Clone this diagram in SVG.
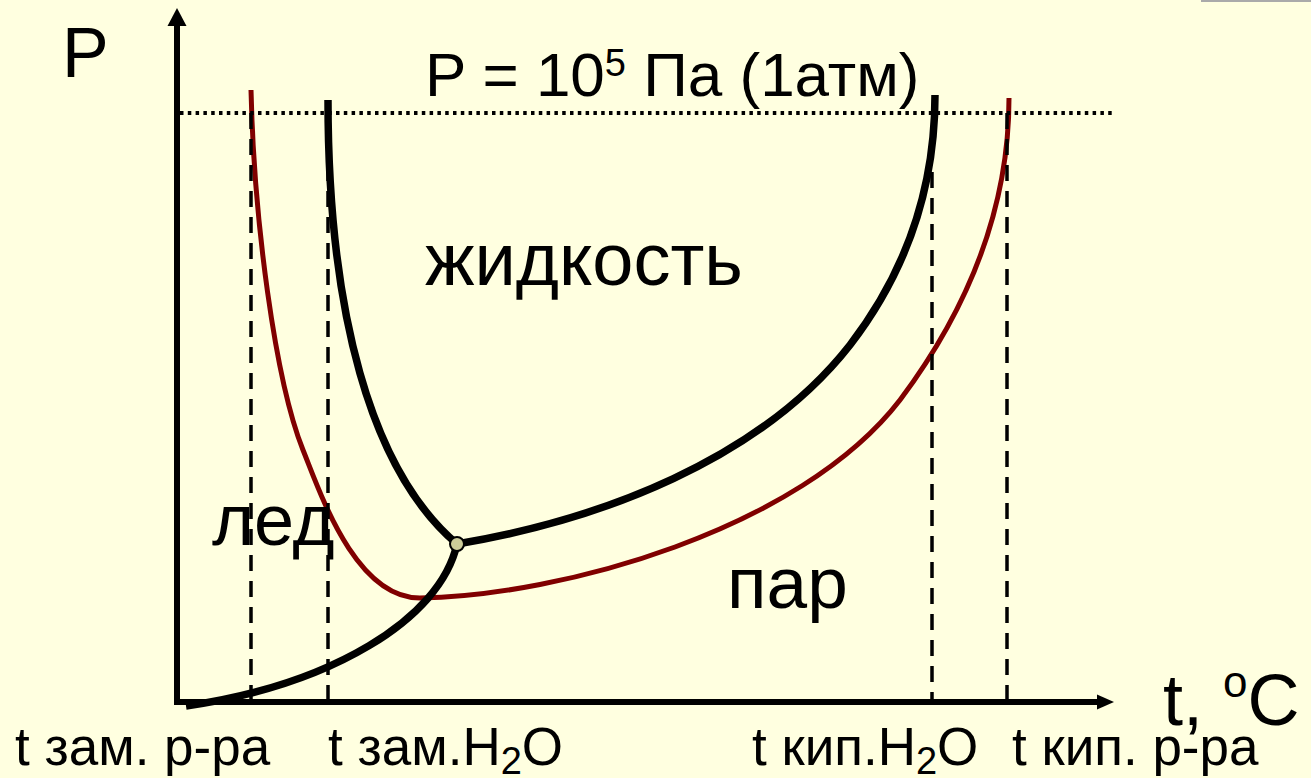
<svg xmlns="http://www.w3.org/2000/svg" width="1311" height="778" viewBox="0 0 1311 778">
<style>
.t{font-family:"Liberation Sans",Arial,sans-serif;fill:#000}
.ax{stroke:#000;stroke-width:6;fill:none}
.blk{stroke:#000;stroke-width:7.5;fill:none;stroke-linecap:butt}
.red{stroke:#800000;stroke-width:5;fill:none}
.dash{stroke:#000;stroke-width:3.5;stroke-dasharray:16 10;fill:none}
.dot{stroke:#000;stroke-width:4;stroke-dasharray:3.5 4.3;fill:none}
</style>
<rect x="0" y="0" width="1311" height="778" fill="#FFFFE0"/>
<line x1="1201" y1="1" x2="1311" y2="1" stroke="#AAAAAA" stroke-width="2"/>
<g id="solution-curve">
<path class="red" d="M251,90 C254,220 275,380 303,450 C320,492 355,598 420,598"/>
<path class="red" d="M420,598 C560,596 800,530 900,400 C960,320 1009,220 1009,98"/>
</g>
<g id="water-curve">
<path class="blk" d="M328,100 C328,310 370,470 457,544"/>
<path class="blk" d="M457,544 C600,520 760,460 850,345 C900,280 935,200 935,95"/>
<path class="blk" d="M457,544 C440,620 330,685 186,706"/>
</g>
<g id="connectors">
<line class="dot" x1="180" y1="113" x2="1113" y2="113"/>
<line class="dash" x1="251" y1="113" x2="251" y2="700"/>
<line class="dash" x1="328" y1="113" x2="328" y2="700"/>
<line class="dash" x1="932" y1="172" x2="932" y2="700"/>
<line class="dash" x1="1007" y1="113" x2="1007" y2="700"/>
</g>
<g id="axes">
<path class="ax" d="M177,24 L177,702 L1099,702"/>
<polygon points="177,8 167.5,26 186.5,26" fill="#000"/>
<polygon points="1114,702 1097,694.5 1097,709.5" fill="#000"/>
</g>
<g id="triple-point">
<circle cx="457" cy="544" r="7" fill="#CCCC99" stroke="#000" stroke-width="2"/>
</g>
<g id="labels">
<text class="t" x="62" y="77" font-size="70">P</text>
<text class="t" x="425" y="96" font-size="62">P = 10<tspan font-size="38" dy="-20">5</tspan><tspan dy="20"> Па (1атм)</tspan></text>
<text class="t" x="425" y="285" font-size="74">жидкость</text>
<text class="t" x="212" y="545" font-size="72">лед</text>
<text class="t" x="727" y="608" font-size="73">пар</text>
<text class="t" x="1163" y="725" font-size="72">t, <tspan font-size="44" dy="-28">o</tspan><tspan dy="28">C</tspan></text>
<text class="t" x="15" y="765" font-size="53">t зам. р-ра</text>
<text class="t" x="328" y="765" font-size="53">t зам.H<tspan font-size="38" dy="9">2</tspan><tspan dy="-9">O</tspan></text>
<text class="t" x="752" y="765" font-size="53">t кип.H<tspan font-size="38" dy="9">2</tspan><tspan dy="-9">O</tspan></text>
<text class="t" x="1012" y="765" font-size="53">t кип. р-ра</text>
</g>
</svg>
